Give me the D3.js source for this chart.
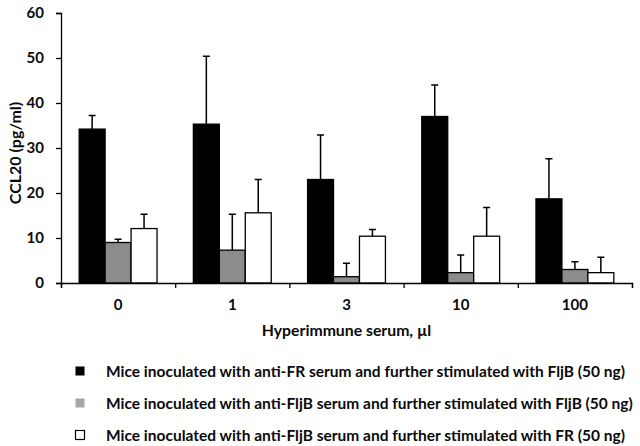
<!DOCTYPE html>
<html>
<head>
<meta charset="utf-8">
<script src="https://cdn.jsdelivr.net/npm/d3@7"></script>
<style>
  html, body { margin: 0; padding: 0; background: #fff; }
  svg { display: block; font-family: Lato, "Open Sans", sans-serif; font-weight: bold; }
</style>
</head>
<body>
<div id="chart"></div>
<script>
const doses = ["0", "1", "3", "10", "100"];
const seriesNames = [
  "Mice inoculated with anti-FR serum and further stimulated with FljB (50 ng)",
  "Mice inoculated with anti-FljB serum and further stimulated with FljB (50 ng)",
  "Mice inoculated with anti-FljB serum and further stimulated with FR (50 ng)"
];
const antiFrFljB = [34.2, 35.3, 23.0, 37.0, 18.7];
const antiFljBFljB = [9.0, 7.3, 1.4, 2.3, 3.0];
const antiFljBFR = [12.1, 15.6, 10.4, 10.4, 2.3];
// upper error (value + sd)
const antiFrFljBTop = [37.2, 50.4, 32.9, 44.0, 27.6];
const antiFljBFljBTop = [9.7, 15.3, 4.4, 6.2, 4.7];
const antiFljBFRTop = [15.3, 23.0, 11.9, 16.8, 5.7];
const yTicks = [0, 10, 20, 30, 40, 50, 60];

const width = 640, height = 446;
const margin = { top: 13, right: 8, bottom: 163, left: 61 };
const fills = ["#000000", "#8c8c8c", "#ffffff"];
const legendFills = ["#000000", "#a6a6a6", "#ffffff"];
const textColor = "#0a0a0a";

const series = [
  { values: antiFrFljB, tops: antiFrFljBTop },
  { values: antiFljBFljB, tops: antiFljBFljBTop },
  { values: antiFljBFR, tops: antiFljBFRTop }
];

const svg = d3.select("#chart").append("svg")
  .attr("width", width)
  .attr("height", height);

const x0 = d3.scaleBand()
  .domain(doses)
  .range([margin.left, width - margin.right])
  .padding(0);

const x1 = d3.scaleBand()
  .domain(d3.range(series.length))
  .range([0, x0.bandwidth()])
  .paddingInner(0)
  .paddingOuter(0.7);

const y = d3.scaleLinear()
  .domain([0, 60])
  .range([height - margin.bottom, margin.top]);

// bars
series.forEach((s, si) => {
  const g = svg.append("g");
  g.selectAll("rect")
    .data(s.values)
    .join("rect")
      .attr("x", (d, i) => x0(doses[i]) + x1(si))
      .attr("y", d => y(d))
      .attr("width", x1.bandwidth())
      .attr("height", d => y(0) - y(d))
      .attr("fill", fills[si])
      .attr("stroke", "#000")
      .attr("stroke-width", 1.3);

  // error bars (upper only)
  const cx = i => x0(doses[i]) + x1(si) + x1.bandwidth() / 2;
  g.selectAll("path.err")
    .data(s.tops)
    .join("path")
      .attr("class", "err")
      .attr("fill", "none")
      .attr("stroke", "#000")
      .attr("stroke-width", 1.5)
      .attr("d", (d, i) =>
        `M${cx(i)},${y(s.values[i])}V${y(d)}M${cx(i) - 3.5},${y(d)}H${cx(i) + 3.5}`);
});

// y axis
svg.append("g")
  .attr("transform", `translate(${margin.left},0)`)
  .call(d3.axisLeft(y).tickValues(yTicks).tickSize(5).tickSizeOuter(5).tickPadding(12))
  .call(g => g.selectAll("path, line").attr("stroke", "#000").attr("stroke-width", 1.3))
  .call(g => g.selectAll("text")
    .attr("font-family", "Lato, sans-serif")
    .attr("font-weight", "bold")
    .attr("font-size", 15)
    .attr("fill", textColor));

// x axis: ticks at category boundaries
const xb = d3.scaleLinear().domain([0, doses.length]).range(x0.range());
svg.append("g")
  .attr("transform", `translate(0,${y(0)})`)
  .call(d3.axisBottom(xb).tickValues(d3.range(doses.length + 1)).tickFormat("").tickSize(5).tickSizeOuter(5))
  .call(g => g.selectAll("path, line").attr("stroke", "#000").attr("stroke-width", 1.3));

// x category labels
svg.append("g")
  .attr("transform", `translate(0,${y(0)})`)
  .call(d3.axisBottom(x0).tickSize(0).tickPadding(16))
  .call(g => g.select(".domain").remove())
  .call(g => g.selectAll("text")
    .attr("font-family", "Lato, sans-serif")
    .attr("font-weight", "bold")
    .attr("font-size", 15)
    .attr("fill", textColor));

// axis titles
svg.append("text")
  .attr("x", (margin.left + width - margin.right) / 2)
  .attr("y", 336)
  .attr("text-anchor", "middle")
  .attr("font-size", 15.8)
  .attr("fill", textColor)
  .text("Hyperimmune serum, µl");

svg.append("text")
  .attr("transform", `translate(21,${(y(0) + y(60)) / 2 + 5}) rotate(-90)`)
  .attr("text-anchor", "middle")
  .attr("font-size", 16)
  .attr("fill", textColor)
  .text("CCL20 (pg/ml)");

// legend
const legendY = [371, 403, 435];
const legend = svg.append("g");
seriesNames.forEach((name, i) => {
  legend.append("rect")
    .attr("x", 75.5)
    .attr("y", legendY[i] - 4.5)
    .attr("width", 9)
    .attr("height", 9)
    .attr("fill", legendFills[i])
    .attr("stroke", i === 2 ? "#000" : "none")
    .attr("stroke-width", 1.2);
  legend.append("text")
    .attr("x", 106)
    .attr("y", legendY[i] + 5.5)
    .attr("font-size", 15.5)
    .attr("fill", textColor)
    .text(name);
});
</script>
</body>
</html>
